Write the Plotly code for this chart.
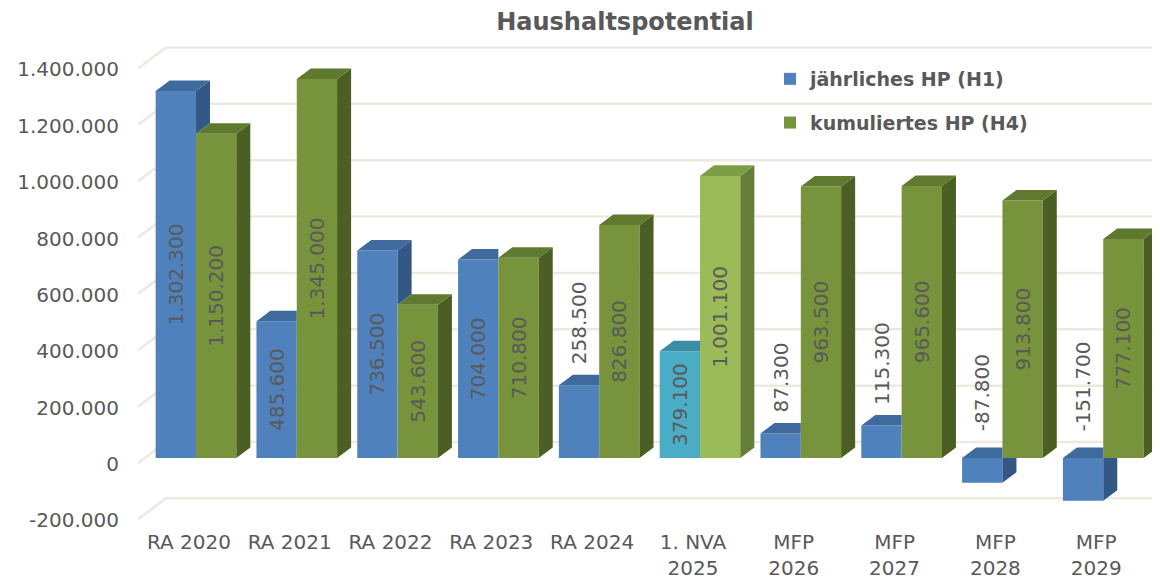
import plotly.graph_objects as go

# ---------------- data ----------------
categories = ["RA 2020", "RA 2021", "RA 2022", "RA 2023", "RA 2024",
              "1. NVA<br>2025", "MFP<br>2026", "MFP<br>2027", "MFP<br>2028", "MFP<br>2029"]
annual = [1302300, 485600, 736500, 704000, 258500, 379100, 87300, 115300, -87800, -151700]
cumulative = [1150200, 1345000, 543600, 710800, 826800, 1001100, 963500, 965600, 913800, 777100]
y_tick_values = [-200000, 0, 200000, 400000, 600000, 800000, 1000000, 1200000, 1400000]
series_names = ["jährliches HP (H1)", "kumuliertes HP (H4)"]
highlight_index = 5  # "1. NVA 2025" drawn in lighter colours

# ---------------- style / geometry ----------------
FONT = "DejaVu Sans"
TXT = "#595959"
GRID = "#ECEADF"
BAR_W = 0.4
DX = 0.139        # depth offset in x units (~14 px)
DY = 37300        # depth offset in y units (~10.5 px)
BACK_DY = 56800   # back wall offset (~16 px)
FRONT_DY = -17700 # front edge of grid (~5 px)
X_RANGE = [-0.575, 9.563]
Y_RANGE = [-255500, 1483300]
OFF = 8                      # page body margin
W, H = 1160 - OFF, 580 - OFF
PLOT_L, PLOT_W = 138 - OFF, 1022

blue = dict(front="#4F81BD", top="#3E6A9E", side="#345885")
teal = dict(front="#4BACC6", top="#3A8DA3", side="#31768A")
green = dict(front="#77933C", top="#5F7A2E", side="#4B5F24")
lgreen = dict(front="#9BBB59", top="#7E9C44", side="#667F38")


def fmt(v):
    return f"{v:,}".replace(",", ".")


def poly(xs, ys, color):
    return go.Scatter(x=xs + [xs[0]], y=ys + [ys[0]], mode="lines", fill="toself",
                      fillcolor=color, line=dict(width=0, color=color),
                      hoverinfo="skip", showlegend=False)


fig = go.Figure()

n = len(categories)
# ----- 3D faces for annual series (left bars) -----
for i in range(n):
    c = teal if i == highlight_index else blue
    v = annual[i]
    g = cumulative[i]
    x0, x1 = i - BAR_W, i
    top, bot = max(v, 0), min(v, 0)
    if top > g:
        fig.add_trace(poly([x1, x1 + DX, x1 + DX, x1], [g, g + DY, top + DY, top], c["side"]))
    if bot < 0:
        fig.add_trace(poly([x1, x1 + DX, x1 + DX, x1], [bot, bot + DY, 0, 0], c["side"]))
    if top >= g:
        fig.add_trace(poly([x0, x1, x1 + DX, x0 + DX], [top, top, top + DY, top + DY], c["top"]))
    else:
        fig.add_trace(poly([x0, x1, x1, x0 + DX], [top, top, top + DY, top + DY], c["top"]))

# ----- 3D faces for cumulative series (right bars) -----
for i in range(n):
    c = lgreen if i == highlight_index else green
    v = cumulative[i]
    x0, x1 = i, i + BAR_W
    top, bot = max(v, 0), min(v, 0)
    fig.add_trace(poly([x1, x1 + DX, x1 + DX, x1], [bot, bot + DY, top + DY, top], c["side"]))
    fig.add_trace(poly([x0, x1, x1 + DX, x0 + DX], [top, top, top + DY, top + DY], c["top"]))

# ----- front faces (bars) -----
inside_min = 300000
fig.add_trace(go.Bar(
    x=[i - BAR_W / 2 for i in range(n)], y=annual, width=BAR_W,
    marker=dict(color=[teal["front"] if i == highlight_index else blue["front"] for i in range(n)],
                line=dict(width=0)),
    text=[fmt(v) if abs(v) >= inside_min else "" for v in annual],
    textposition="inside", textangle=-90, insidetextanchor="middle",
    textfont=dict(family=FONT, size=20, color=TXT), constraintext="none",
    name=series_names[0], legendgroup="a", hoverinfo="skip"))
fig.add_trace(go.Bar(
    x=[i + BAR_W / 2 for i in range(n)], y=cumulative, width=BAR_W,
    marker=dict(color=[lgreen["front"] if i == highlight_index else green["front"] for i in range(n)],
                line=dict(width=0)),
    text=[fmt(v) if abs(v) >= inside_min else "" for v in cumulative],
    textposition="inside", textangle=-90, insidetextanchor="middle",
    textfont=dict(family=FONT, size=20, color=TXT), constraintext="none",
    name=series_names[1], legendgroup="b", hoverinfo="skip"))

# outside labels for short bars
for i, v in enumerate(annual):
    if abs(v) < inside_min:
        fig.add_annotation(x=i - BAR_W / 2, y=max(v, 0) + DY, text=fmt(v), textangle=-90,
                           showarrow=False, xanchor="center", yanchor="bottom",
                           yshift=8 if v >= 0 else 14,
                           font=dict(family=FONT, size=20, color=TXT))

# ----- back-wall gridlines -----
shapes = []
for t in y_tick_values:
    shapes.append(dict(type="line", xref="x", yref="y", layer="below",
                       x0=X_RANGE[0], x1=X_RANGE[0] + 2 * DX, y0=t + FRONT_DY, y1=t + BACK_DY,
                       line=dict(color=GRID, width=2.5)))
    shapes.append(dict(type="line", xref="x", yref="y", layer="below",
                       x0=X_RANGE[0] + 2 * DX, x1=X_RANGE[1], y0=t + BACK_DY, y1=t + BACK_DY,
                       line=dict(color=GRID, width=2.5)))

fig.update_layout(
    width=W, height=H,
    margin=dict(l=PLOT_L, r=0, t=40 - OFF, b=50, autoexpand=False),
    paper_bgcolor="white", plot_bgcolor="white",
    barmode="overlay",
    shapes=shapes,
    title=dict(text="<b>Haushaltspotential</b>", x=(625 - OFF) / W, xref="container",
               xanchor="center", y=1 - (22 - OFF) / H, yref="container", yanchor="middle",
               font=dict(family=FONT, size=24, color=TXT)),
    legend=dict(x=(770 - OFF - PLOT_L) / PLOT_W, xref="paper", y=1 - (60 - OFF) / H,
                yref="container", xanchor="left", yanchor="top", bgcolor="rgba(0,0,0,0)",
                tracegroupgap=16, traceorder="grouped",
                font=dict(family=FONT, size=19, color=TXT, weight="bold")),
    xaxis=dict(range=X_RANGE, tickvals=[i - 0.07 for i in range(n)], ticktext=categories,
               showgrid=False, zeroline=False, showline=False, ticks="", tickangle=0,
               automargin=False, ticklabelstandoff=-2,
               tickfont=dict(family=FONT, size=20, color=TXT), fixedrange=True),
    yaxis=dict(range=Y_RANGE, tickvals=y_tick_values, ticktext=[fmt(t) for t in y_tick_values],
               showgrid=False, zeroline=False, showline=False, ticks="", ticklabelstandoff=18,
               ticklabelshift=6, automargin=False,
               tickfont=dict(family=FONT, size=20, color=TXT), fixedrange=True),
    showlegend=True,
)

fig.write_html("out.html")
